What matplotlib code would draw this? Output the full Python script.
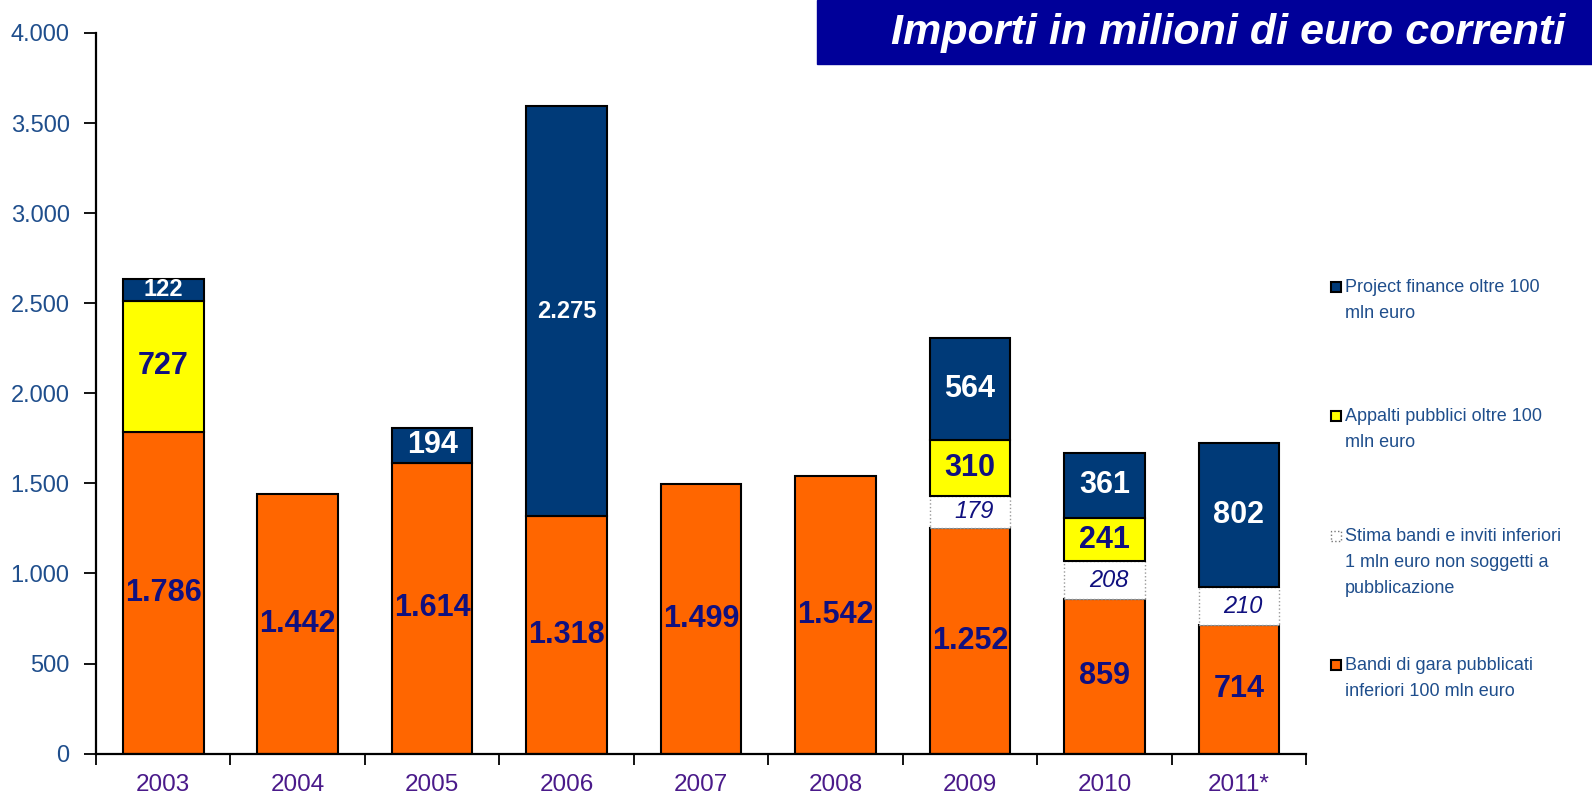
"""Importi dei bandi di gara per anno, barre impilate"""
import numpy as np
import matplotlib.pyplot as plt
from matplotlib.patches import Rectangle

plt.rcParams['font.family'] = ['Liberation Sans', 'DejaVu Sans']

years = ['2003', '2004', '2005', '2006', '2007', '2008', '2009', '2010', '2011*']
bandi = [1786, 1442, 1614, 1318, 1499, 1542, 1252, 859, 714]
stima = [0, 0, 0, 0, 0, 0, 179, 208, 210]
appalti = [727, 0, 0, 0, 0, 0, 310, 241, 0]
project = [122, 0, 194, 2275, 0, 0, 564, 361, 802]

legend_labels = [
    'Project finance oltre 100\nmln euro',
    'Appalti pubblici oltre 100\nmln euro',
    'Stima bandi e inviti inferiori\n1 mln euro non soggetti a\npubblicazione',
    'Bandi di gara pubblicati\ninferiori 100 mln euro',
]

ORANGE = '#FF6600'
YELLOW = '#FFFF00'
NAVY = '#003A78'
TXT_NAVY = '#10107F'
TICK_BLUE = '#1F4E8C'
YEAR_PURPLE = '#4A1A8A'

# labels drawn in a smaller size in the original
small_labels = {('project', '2003'), ('project', '2006')}


def fmt(v):
    return f'{v:,}'.replace(',', '.')


fig = plt.figure(figsize=(15.92, 7.95), dpi=100)
ax = fig.add_axes([0.0603, 0.052, 0.7601, 0.9065])

x = np.arange(len(years))
w = 0.6
bottom = np.zeros(len(years))

series = [
    ('bandi', bandi, dict(color=ORANGE, edgecolor='black', linewidth=1.5),
     dict(color=TXT_NAVY, fontsize=22, fontweight='bold')),
    ('stima', stima, dict(color='white', edgecolor='#999999', linewidth=1.0, linestyle=':'),
     dict(color=TXT_NAVY, fontsize=17, fontstyle='italic')),
    ('appalti', appalti, dict(color=YELLOW, edgecolor='black', linewidth=1.5),
     dict(color=TXT_NAVY, fontsize=22, fontweight='bold')),
    ('project', project, dict(color=NAVY, edgecolor='black', linewidth=1.5),
     dict(color='white', fontsize=22, fontweight='bold')),
]

for name, vals, bar_kw, txt_kw in series:
    vals = np.array(vals, dtype=float)
    mask = vals > 0
    ax.bar(x[mask], vals[mask], w, bottom=bottom[mask], zorder=2, **bar_kw)
    for xi in x[mask]:
        v, b = vals[xi], bottom[xi]
        kw = dict(txt_kw)
        if (name, years[xi]) in small_labels:
            kw['fontsize'] = 17
        # italic estimates sit a little right of centre
        dx = 0.03 if name == 'stima' else 0.0
        ax.text(xi + dx, b + v / 2, fmt(int(v)), ha='center', va='center',
                zorder=3, **kw)
    bottom += vals

ax.set_xlim(-0.5, len(years) - 0.5)
ax.set_ylim(0, 4000)
ax.set_yticks(np.arange(0, 4001, 500))
ax.set_yticklabels([fmt(v) for v in range(0, 4001, 500)])
ax.set_xticks(x)
ax.set_xticklabels(years)
ax.set_xticks(np.arange(-0.5, len(years), 1), minor=True)

for s in ['top', 'right']:
    ax.spines[s].set_visible(False)
for s in ['left', 'bottom']:
    ax.spines[s].set_linewidth(1.6)

ax.tick_params(axis='y', labelsize=17, labelcolor=TICK_BLUE, direction='out',
               length=9, width=1.3, pad=10)
ax.tick_params(axis='x', which='major', length=0, labelsize=17.5,
               labelcolor=YEAR_PURPLE, pad=15)
ax.tick_params(axis='x', which='minor', direction='out', length=8, width=1.3)

# title box
fig.patches.append(Rectangle((817 / 1592, 1 - 64 / 795), 1 - 817 / 1592, 64 / 795,
                             transform=fig.transFigure, color='#000099', zorder=0))
fig.text(1565 / 1592, 1 - 33 / 795, 'Importi in milioni di euro correnti',
         ha='right', va='center', color='white', fontsize=31,
         fontweight='bold', fontstyle='italic')

# legend drawn by hand
leg_colors = [NAVY, YELLOW, 'white', ORANGE]
leg_y = [287, 416, 536, 665]
for lab, col, yy in zip(legend_labels, leg_colors, leg_y):
    yf = 1 - yy / 795
    if col == 'white':
        rect = Rectangle((1331 / 1592, yf - 5 / 795), 10 / 1592, 10 / 795,
                         transform=fig.transFigure, facecolor='white',
                         edgecolor='#777777', linestyle=':', linewidth=1.0)
    else:
        rect = Rectangle((1331 / 1592, yf - 5 / 795), 10 / 1592, 10 / 795,
                         transform=fig.transFigure, facecolor=col,
                         edgecolor='black', linewidth=1.5)
    fig.patches.append(rect)
    fig.text(1345 / 1592, yf + 8 / 795, lab, ha='left', va='top', fontsize=13,
             color=TICK_BLUE, linespacing=1.7)

plt.savefig('out.png', dpi=100)
